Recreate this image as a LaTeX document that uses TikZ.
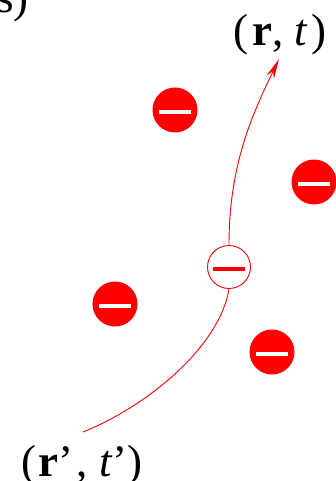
\documentclass[tikz,border=0pt]{standalone}
\usepackage{fontspec}
\setmainfont{Liberation Serif}
\usetikzlibrary{positioning}
\usetikzlibrary{arrows.meta}
\tikzset{charge/.style={circle,fill=red,minimum size=45pt,inner sep=0pt,
    path picture={\fill[white] (path picture bounding box.center) ++(-16pt,0pt) rectangle ++(32pt,-4pt);}},
  hole/.style={circle,draw=red,fill=white,line width=0.9pt,minimum size=43pt,inner sep=0pt,
    path picture={\fill[red] (path picture bounding box.center) ++(-16pt,0pt) rectangle ++(32pt,-4pt);}},
  coord label/.style={font=\fontsize{45}{50}\selectfont,inner sep=0pt},
  wire/.style={red,line width=0.9pt}}

\begin{document}
\begin{tikzpicture}[x=1pt,y=-1pt]
    \useasboundingbox (0,0) rectangle (335,481);

    % charges around the path
	\node[charge] (q1) at (175,110) {};
    \node[charge] (q2) at (314,182) {};
    \node[charge] (q3) at (115,304) {};
    \node[charge] (q4) at (272,352) {};
    \node[hole] (h) at (229,267) {};

    % end points
    \node[coord label,anchor=base west] (tag) at (-4,13) {s)};
    \node[coord label,anchor=base] (final) at (280,46) {(\kern4pt\textbf{r}, \textit{t}\kern4pt)};
    \node[coord label,anchor=base] (initial) at (82,476) {(\kern2pt\textbf{r}’\kern3pt, \textit{t}’)};
    \coordinate (src) at (83,432);
    \coordinate (dst) at (279,59);

    \draw[wire] (src) .. controls (150,405) and (220,345) .. (h.south);
    \draw[wire,-{Stealth[length=20pt,width=8pt]}] (h.north) .. controls (229,165) and (252,115) .. (dst);
\end{tikzpicture}
\end{document}
